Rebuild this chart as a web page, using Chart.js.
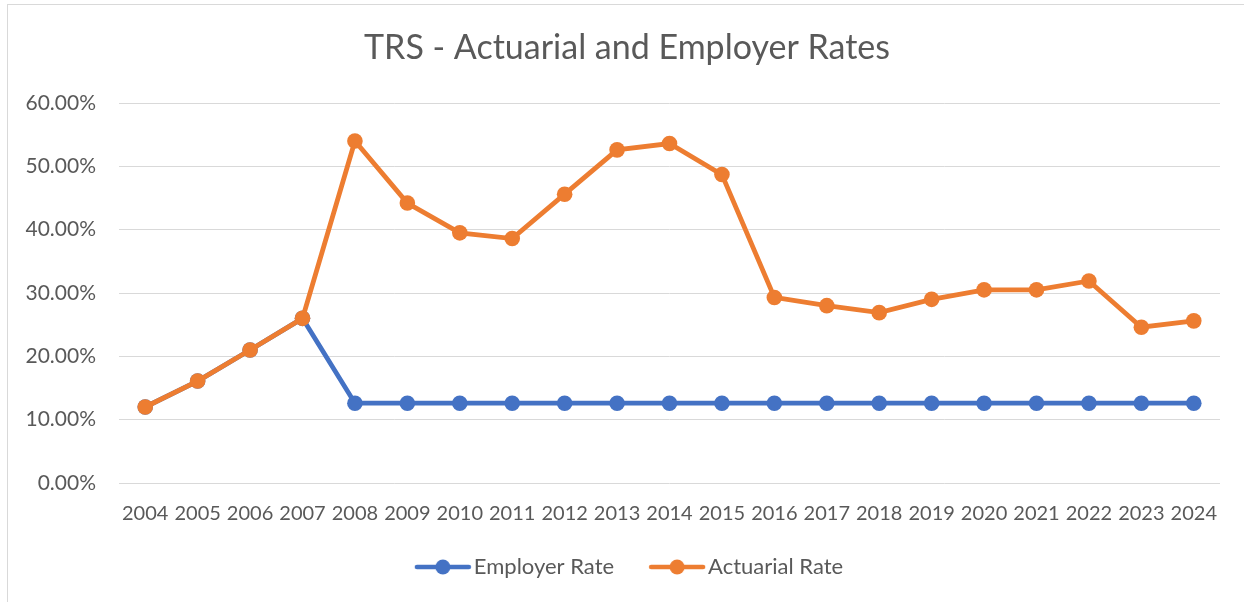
<!DOCTYPE html>
<html>
<head>
<meta charset="utf-8">
<script src="https://cdn.jsdelivr.net/npm/chart.js@4"></script>
<style>
  body { margin: 0; background: #fff; }
  #frame { position: absolute; left: 7px; top: 4px; width: 1260px; height: 620px; border: 1px solid #d9d9d9; }
  #wrap { position: absolute; left: 0; top: 0; width: 1244px; height: 602px; }
</style>
</head>
<body>
<div id="frame"></div>
<div id="wrap"><canvas id="myChart"></canvas></div>
<script>
const years = ['2004','2005','2006','2007','2008','2009','2010','2011','2012','2013','2014',
               '2015','2016','2017','2018','2019','2020','2021','2022','2023','2024']
const employerRate = [12.0,16.1,21.0,26.0,12.6,12.6,12.6,12.6,12.6,12.6,12.6,
                      12.6,12.6,12.6,12.6,12.6,12.6,12.6,12.6,12.6,12.6]
const actuarialRate = [12.0,16.1,21.0,26.0,54.0,44.2,39.5,38.6,45.6,52.6,53.6,
                       48.7,29.3,28.0,26.9,29.0,30.5,30.5,31.9,24.6,25.6]
const yTicks = [0,10,20,30,40,50,60]

const blue = '#4472C4'
const orange = '#ED7D31'
const font = 'Lato'

// little line-with-dot picture for the legend (14px empty on the left for spacing)
function legendMark(color){
    const c = document.createElement('canvas')
    c.width = 72; c.height = 18
    const g = c.getContext('2d')
    g.strokeStyle = color
    g.lineWidth = 4.5
    g.lineCap = 'round'
    g.beginPath(); g.moveTo(17, 9); g.lineTo(69, 9); g.stroke()
    g.fillStyle = color
    g.beginPath(); g.arc(43, 9, 7.5, 0, Math.PI*2); g.fill()
    return c
}
const marks = [legendMark(blue), legendMark(orange)]

// nudge title and legend to the right like the excel original
const nudge = {
    id: 'nudge',
    afterLayout(chart){
        chart.titleBlock.left += 34
        chart.legend.left += 32
    }
}

const ctx = document.getElementById('myChart')
const mychart = new Chart(ctx, {
    type: 'line',
    data: {
        labels: years,
        datasets: [{
            label: 'Employer Rate',
            data: employerRate,
            borderColor: blue,
            backgroundColor: blue,
            borderWidth: 4.8,
            pointRadius: 7.8,
            pointBorderWidth: 0,
            pointHoverRadius: 7.8,
            order: 1
        },{
            label: 'Actuarial Rate',
            data: actuarialRate,
            borderColor: orange,
            backgroundColor: orange,
            borderWidth: 4.8,
            pointRadius: 7.8,
            pointBorderWidth: 0,
            pointHoverRadius: 7.8,
            order: 0
        }]
    },
    plugins: [nudge],
    options: {
        responsive: true,
        maintainAspectRatio: false,
        animation: false,
        layout: { padding: { left: 0, right: 24, top: 0, bottom: 14 } },
        plugins: {
            title: {
                display: true,
                text: 'TRS - Actuarial and Employer Rates',
                color: '#595959',
                font: { family: font, size: 34, weight: 'normal' },
                padding: { top: 27.6, bottom: 34.6 }
            },
            legend: {
                position: 'bottom',
                labels: {
                    color: '#595959',
                    font: { family: font, size: 22 },
                    usePointStyle: true,
                    pointStyleWidth: 54,
                    padding: 29,
                    generateLabels: (chart) => chart.data.datasets.map((d, i) => ({
                        text: d.label,
                        pointStyle: marks[i],
                        fillStyle: d.borderColor,
                        strokeStyle: d.borderColor,
                        lineWidth: 0,
                        fontColor: '#595959',
                        datasetIndex: i
                    }))
                }
            },
            tooltip: { enabled: false }
        },
        scales: {
            x: {
                offset: true,
                grid: { display: false, drawTicks: false },
                border: { display: false },
                ticks: { color: '#595959', font: { family: font, size: 20 }, padding: 19, maxRotation: 0, autoSkip: false },
                afterFit: (s) => { s.height = 44 }
            },
            y: {
                min: 0,
                max: 60,
                afterBuildTicks: (s) => { s.ticks = yTicks.map(v => ({ value: v })) },
                grid: { color: '#d9d9d9', lineWidth: 1, drawTicks: false },
                border: { display: false },
                ticks: {
                    color: '#595959',
                    font: { family: font, size: 21 },
                    padding: 23,
                    callback: (v) => v.toFixed(2) + '%'
                },
                afterFit: (s) => { s.width = 119 }
            }
        }
    }
})
</script>
</body>
</html>
